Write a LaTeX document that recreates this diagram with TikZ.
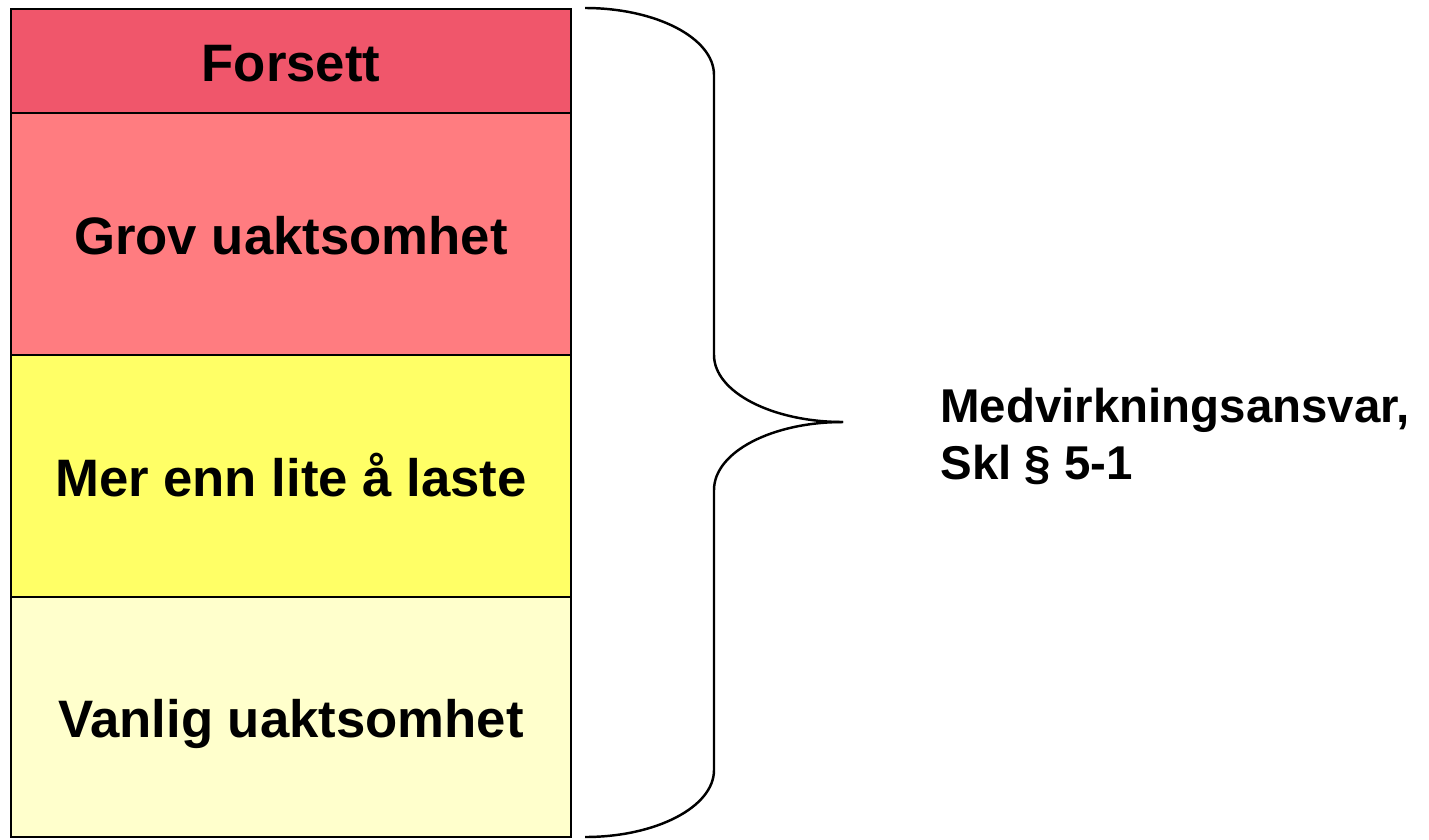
\documentclass[tikz,border=0pt]{standalone}
\usepackage{fontspec}
\setmainfont{Liberation Sans}
\definecolor{forsettfarge}{HTML}{F0566B}
\definecolor{grovfarge}{HTML}{FF7C80}
\definecolor{merfarge}{HTML}{FFFF66}
\definecolor{vanligfarge}{HTML}{FFFFCC}
\begin{document}
\begin{tikzpicture}[x=0.02cm,y=-0.02cm,
		lag/.style={draw,line width=1.1pt,minimum width=11.2cm,inner sep=0pt,outer sep=0pt,anchor=north west,text height=0.84cm,text depth=0pt,font=\fontsize{30}{36}\selectfont\bfseries},
		klamme/.style={line width=1.4pt}]
		\useasboundingbox (0,0) rectangle (1429,839);
		\node[lag,fill=forsettfarge,minimum height=2.08cm] (forsett) at (11,9) {Forsett};
		\node[lag,fill=grovfarge,minimum height=4.84cm] (grov) at (forsett.south west) {Grov uaktsomhet};
		\node[lag,fill=merfarge,minimum height=4.84cm] (mer) at (grov.south west) {Mer enn lite å laste};
		\node[lag,fill=vanligfarge,minimum height=4.8cm] (vanlig) at (mer.south west) {Vanlig uaktsomhet};
		\draw[klamme] (585,8) .. controls (656,8) and (714,38) .. (714,75) -- (714,355) .. controls (714,392) and (772,422) .. (843,422);
		\draw[klamme] (843,422) .. controls (772,422) and (714,452) .. (714,490) -- (714,770) .. controls (714,807) and (656,837) .. (585,837);
		\node[anchor=north west,inner sep=0pt,align=left,font=\fontsize{27}{32.4}\selectfont\bfseries] (ansvar) at (940,388) {Medvirkningsansvar,\\Skl § 5-1};
	\end{tikzpicture}
\end{document}
